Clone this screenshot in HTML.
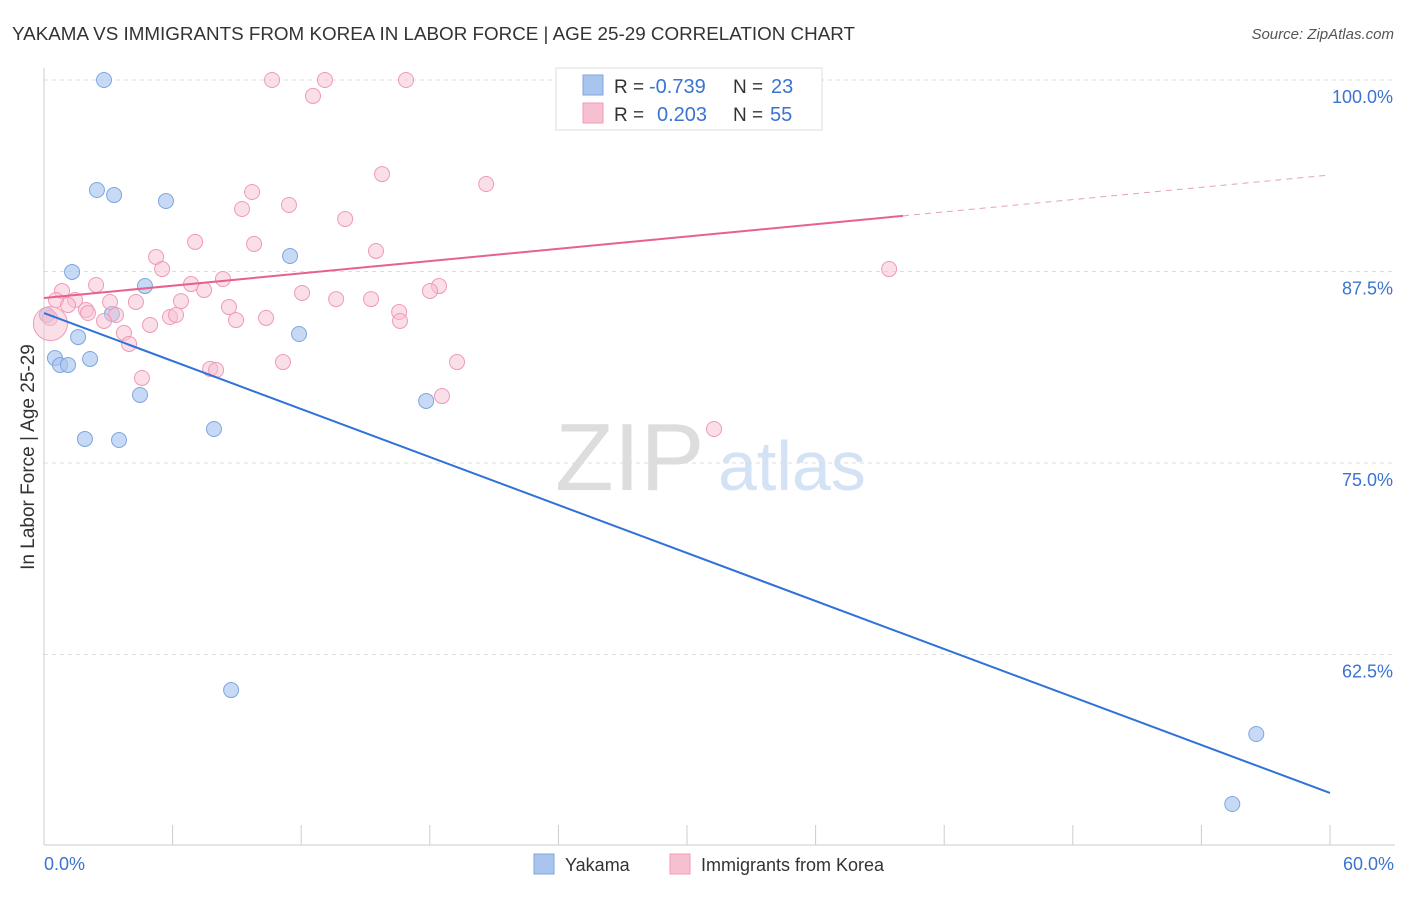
<!DOCTYPE html>
<html><head><meta charset="utf-8"><style>
body{margin:0;background:#fff;font-family:"Liberation Sans",sans-serif}
svg text{font-family:"Liberation Sans",sans-serif}
</style></head><body>
<svg id="c" width="1406" height="892">
<text x="12" y="40" font-size="18" fill="#333" textLength="843" lengthAdjust="spacingAndGlyphs">YAKAMA VS IMMIGRANTS FROM KOREA IN LABOR FORCE | AGE 25-29 CORRELATION CHART</text>
<text x="1394" y="39" font-size="15" fill="#555" font-style="italic" text-anchor="end">Source: ZipAtlas.com</text>
<g><text x="555" y="490" font-size="96" fill="#ddd" font-family="Liberation Serif">ZIP</text><text x="718" y="490" font-size="70" fill="#d3e2f5">atlas</text></g>
<g id="grid"></g><g id="axes"></g><g id="marks"></g>
<text x="34" y="457" font-size="19" fill="#333" text-anchor="middle" transform="rotate(-90 34 457)">In Labor Force | Age 25-29</text>
<g>
<rect x="556" y="68" width="266" height="62" fill="#fff" stroke="#ddd"/>
<rect x="583" y="75" width="20" height="20" fill="#a9c5ee" stroke="#7ea6e0"/>
<rect x="583" y="103" width="20" height="20" fill="#f7c0d1" stroke="#f09ab5"/>
<text x="614" y="93" font-size="19" fill="#333">R =</text>
<text x="649" y="93" font-size="20" fill="#3b73d1">-0.739</text>
<text x="733" y="93" font-size="19" fill="#333">N =</text>
<text x="771" y="93" font-size="20" fill="#3b73d1">23</text>
<text x="614" y="121" font-size="19" fill="#333">R =</text>
<text x="657" y="121" font-size="20" fill="#3b73d1">0.203</text>
<text x="733" y="121" font-size="19" fill="#333">N =</text>
<text x="770" y="121" font-size="20" fill="#3b73d1">55</text>
</g>
<g>
<rect x="534" y="854" width="20" height="20" fill="#a9c5ee" stroke="#7ea6e0"/>
<text x="565" y="871" font-size="18" fill="#333">Yakama</text>
<rect x="670" y="854" width="20" height="20" fill="#f7c0d1" stroke="#f09ab5"/>
<text x="701" y="871" font-size="18" fill="#333">Immigrants from Korea</text>
</g>
</svg>
<script>
const yTicks=[100,87.5,75,62.5];
const yTickLabels=["100.0%","87.5%","75.0%","62.5%"];
const xTickLabels=["0.0%","60.0%"];
const blueX=[2.80,2.47,3.27,5.69,1.31,11.48,4.71,0.14,3.17,1.59,0.51,0.75,1.12,2.15,11.90,4.48,1.91,3.50,7.93,17.83,8.73,56.56,55.44];
const blueY=[100,92.82,92.49,92.10,87.47,88.51,86.55,84.66,84.73,83.22,81.85,81.40,81.40,81.79,83.42,79.44,76.57,76.50,77.22,79.05,60.18,57.31,52.74];
const pinkX=[10.64,13.11,16.89,12.55,15.77,20.63,9.71,9.24,11.43,14.05,7.05,9.80,15.49,5.23,5.51,39.43,2.43,8.35,6.86,7.47,0.84,12.04,18.43,18.01,0.56,1.45,3.08,4.29,6.39,13.63,15.26,8.63,1.96,1.12,3.36,5.88,6.16,16.57,0.28,10.36,8.96,2.80,4.95,16.61,3.73,3.97,11.15,19.27,7.75,8.03,4.57,18.57,31.26,2.05,0.3];
const pinkY=[100,100,100,98.96,93.86,93.21,92.69,91.58,91.84,90.93,89.43,89.30,88.84,88.45,87.66,87.66,86.62,87.01,86.68,86.29,86.23,86.10,86.55,86.23,85.64,85.64,85.51,85.51,85.57,85.70,85.70,85.18,84.99,85.31,84.66,84.53,84.66,84.86,84.47,84.47,84.33,84.27,84.01,84.27,83.49,82.77,81.59,81.59,81.14,81.07,80.55,79.37,77.22,84.79,84.1];
const blueLine=[84.79,53.46];
const pinkLine=[85.77,93.80];
const pinkSolidEnd=40.08;
const X0=44,X1=1330,Y100=80,PX=15.32;
const sx=v=>X0+(X1-X0)*v/60, sy=v=>Y100+(100-v)*PX;
const NS="http://www.w3.org/2000/svg";
function mk(p,t,a){const e=document.createElementNS(NS,t);for(const k in a)e.setAttribute(k,a[k]);p.appendChild(e);return e;}
const grid=document.getElementById('grid'),axes=document.getElementById('axes'),marks=document.getElementById('marks');
yTicks.forEach((v,i)=>{
 const l=mk(grid,'line',{x1:X0,x2:1395,y1:sy(v),y2:sy(v),stroke:'#ddd','stroke-dasharray':'4,4'});
 
 
 const t=mk(axes,'text',{x:1393,y:sy(v)+23,'font-size':18,fill:'#3b73d1','text-anchor':'end'});t.textContent=yTickLabels[i];
 
 
});
mk(axes,'line',{x1:X0,x2:X0,y1:68,y2:845,stroke:'#ccc'});
mk(axes,'line',{x1:X0,x2:1395,y1:845,y2:845,stroke:'#ccc'});
for(let i=0;i<=10;i++){mk(axes,'line',{x1:sx(i*6),x2:sx(i*6),y1:825,y2:845,stroke:'#ccc'});}
[[0,'start',X0],[1,'end',1394]].forEach(([i,a,x])=>{const t=mk(axes,'text',{x:x,y:870,'font-size':18,fill:'#3b73d1','text-anchor':a});t.textContent=xTickLabels[i];
 
 });
blueX.forEach((x,i)=>{const c=mk(marks,'circle',{cx:sx(x),cy:sy(blueY[i]),r:7.5,fill:'#a9c5ee',stroke:'#7ea6e0','fill-opacity':0.65});
 
 });
pinkX.forEach((x,i)=>{const c=mk(marks,'circle',{cx:sx(x),cy:sy(pinkY[i]),r:i==pinkX.length-1?17:7.5,fill:'#f7c0d1',stroke:'#f09ab5','fill-opacity':0.5});
 
 });
const bl=mk(marks,'line',{x1:sx(0),y1:sy(blueLine[0]),x2:sx(60),y2:sy(blueLine[1]),stroke:'#2f72d9','stroke-width':2});


const pAt=x=>pinkLine[0]+(pinkLine[1]-pinkLine[0])*x/60;
const pl=mk(marks,'line',{x1:sx(0),y1:sy(pAt(0)),x2:sx(pinkSolidEnd),y2:sy(pAt(pinkSolidEnd)),stroke:'#e8608c','stroke-width':2});


const pd=mk(marks,'line',{x1:sx(pinkSolidEnd),y1:sy(pAt(pinkSolidEnd)),x2:sx(60),y2:sy(pAt(60)),stroke:'#e8a0b8','stroke-width':1,'stroke-dasharray':'6,5'});


</script>
</body></html>
